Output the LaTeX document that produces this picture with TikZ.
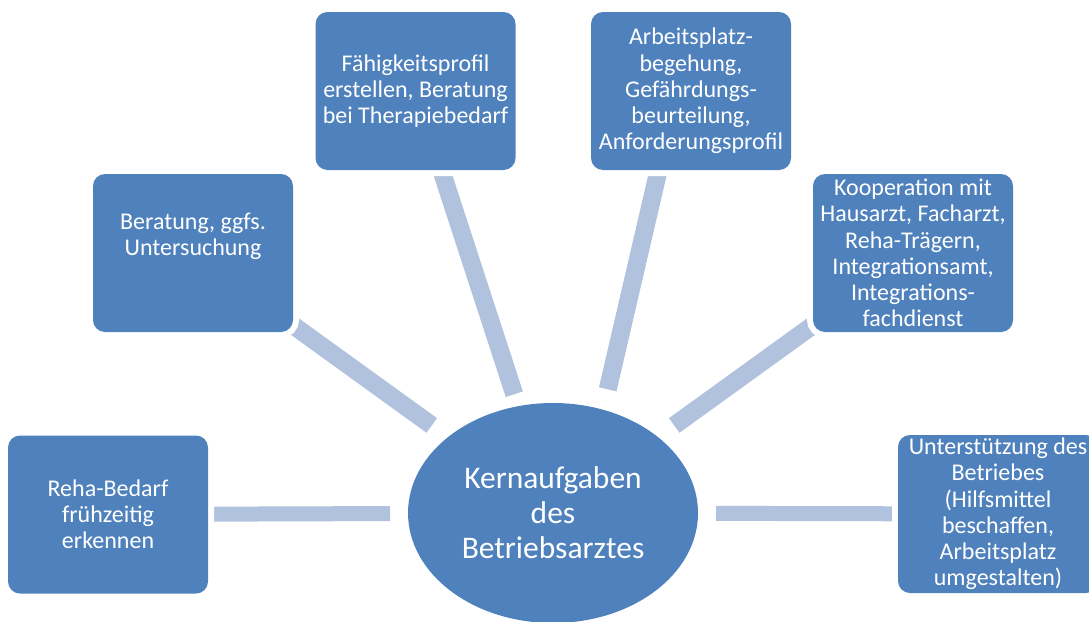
\documentclass[tikz,border=0pt]{standalone}
\usepackage{fontspec}
\setmainfont{Carlito}
\usetikzlibrary{shapes.geometric,calc,backgrounds}
\definecolor{boxblue}{HTML}{4F81BD}
\definecolor{barblue}{RGB}{177,194,222}
\begin{document}
\begin{tikzpicture}[x=1pt,y=-1pt,
  box/.style={rounded corners=12pt, fill=boxblue,
    preaction={draw=white, line width=12pt},
    minimum width=200pt, minimum height=158pt, inner sep=0pt, outer sep=0pt,
    text=white, align=center, font=\fontsize{24}{26.2}\selectfont},
  boxtext/.style={inner sep=0pt, text=white, align=center,
    font=\fontsize{24}{26.2}\selectfont},
  core/.style={ellipse, fill=boxblue, minimum width=290pt, minimum height=220pt,
    inner sep=0pt, outer sep=0pt, text=white, align=center,
    font=\fontsize{31.5}{35}\selectfont},
  bar/.style={draw=barblue, line width=18pt},
  hbar/.style={draw=barblue, line width=15pt}]
\useasboundingbox (0,0) rectangle (1089,621);

% central ellipse
\node[core] (e) at (553,513) {Kernaufgaben\\des\\Betriebsarztes};

% surrounding task boxes
\node[box] (b1) at (108,514.5) {Reha-Bedarf\\frühzeitig\\erkennen};
\node[box] (b2) at (193,253) {};
\node[boxtext] (b2t) at (193,236) {Beratung, ggfs.\\Untersuchung};
\node[box] (b3) at (415.5,91) {Fähigkeitsprofil\\erstellen, Beratung\\bei Therapiebedarf};
\node[box] (b4) at (691,91) {Arbeitsplatz-\\begehung,\\Gefährdungs-\\beurteilung,\\Anforderungsprofil};
\node[box] (b5) at (913,253) {Kooperation mit\\Hausarzt, Facharzt,\\Reha-Trägern,\\Integrationsamt,\\Integrations-\\fachdienst};
\node[box] (b6) at (998,514) {Unterstützung des\\Betriebes\\(Hilfsmittel\\beschaffen,\\Arbeitsplatz\\umgestalten)};

% spokes, drawn beneath the boxes so their white rims cut them off
\begin{pgfonlayer}{background}
\draw[hbar, shorten >=18pt] (b1.center) -- (e);
\draw[bar, shorten >=20pt] (b2.center) -- (e);
\draw[bar, shorten >=12.6pt] (b3.center) -- (e);
\draw[bar, shorten >=127pt] ($(b4.center)+(-14,0)$) -- ($(e.center)+(26,0)$);
\draw[bar, shorten >=20pt] (b5.center) -- (e);
\draw[hbar, shorten >=18pt] (b6.center) -- (e);
\end{pgfonlayer}
\end{tikzpicture}
\end{document}
